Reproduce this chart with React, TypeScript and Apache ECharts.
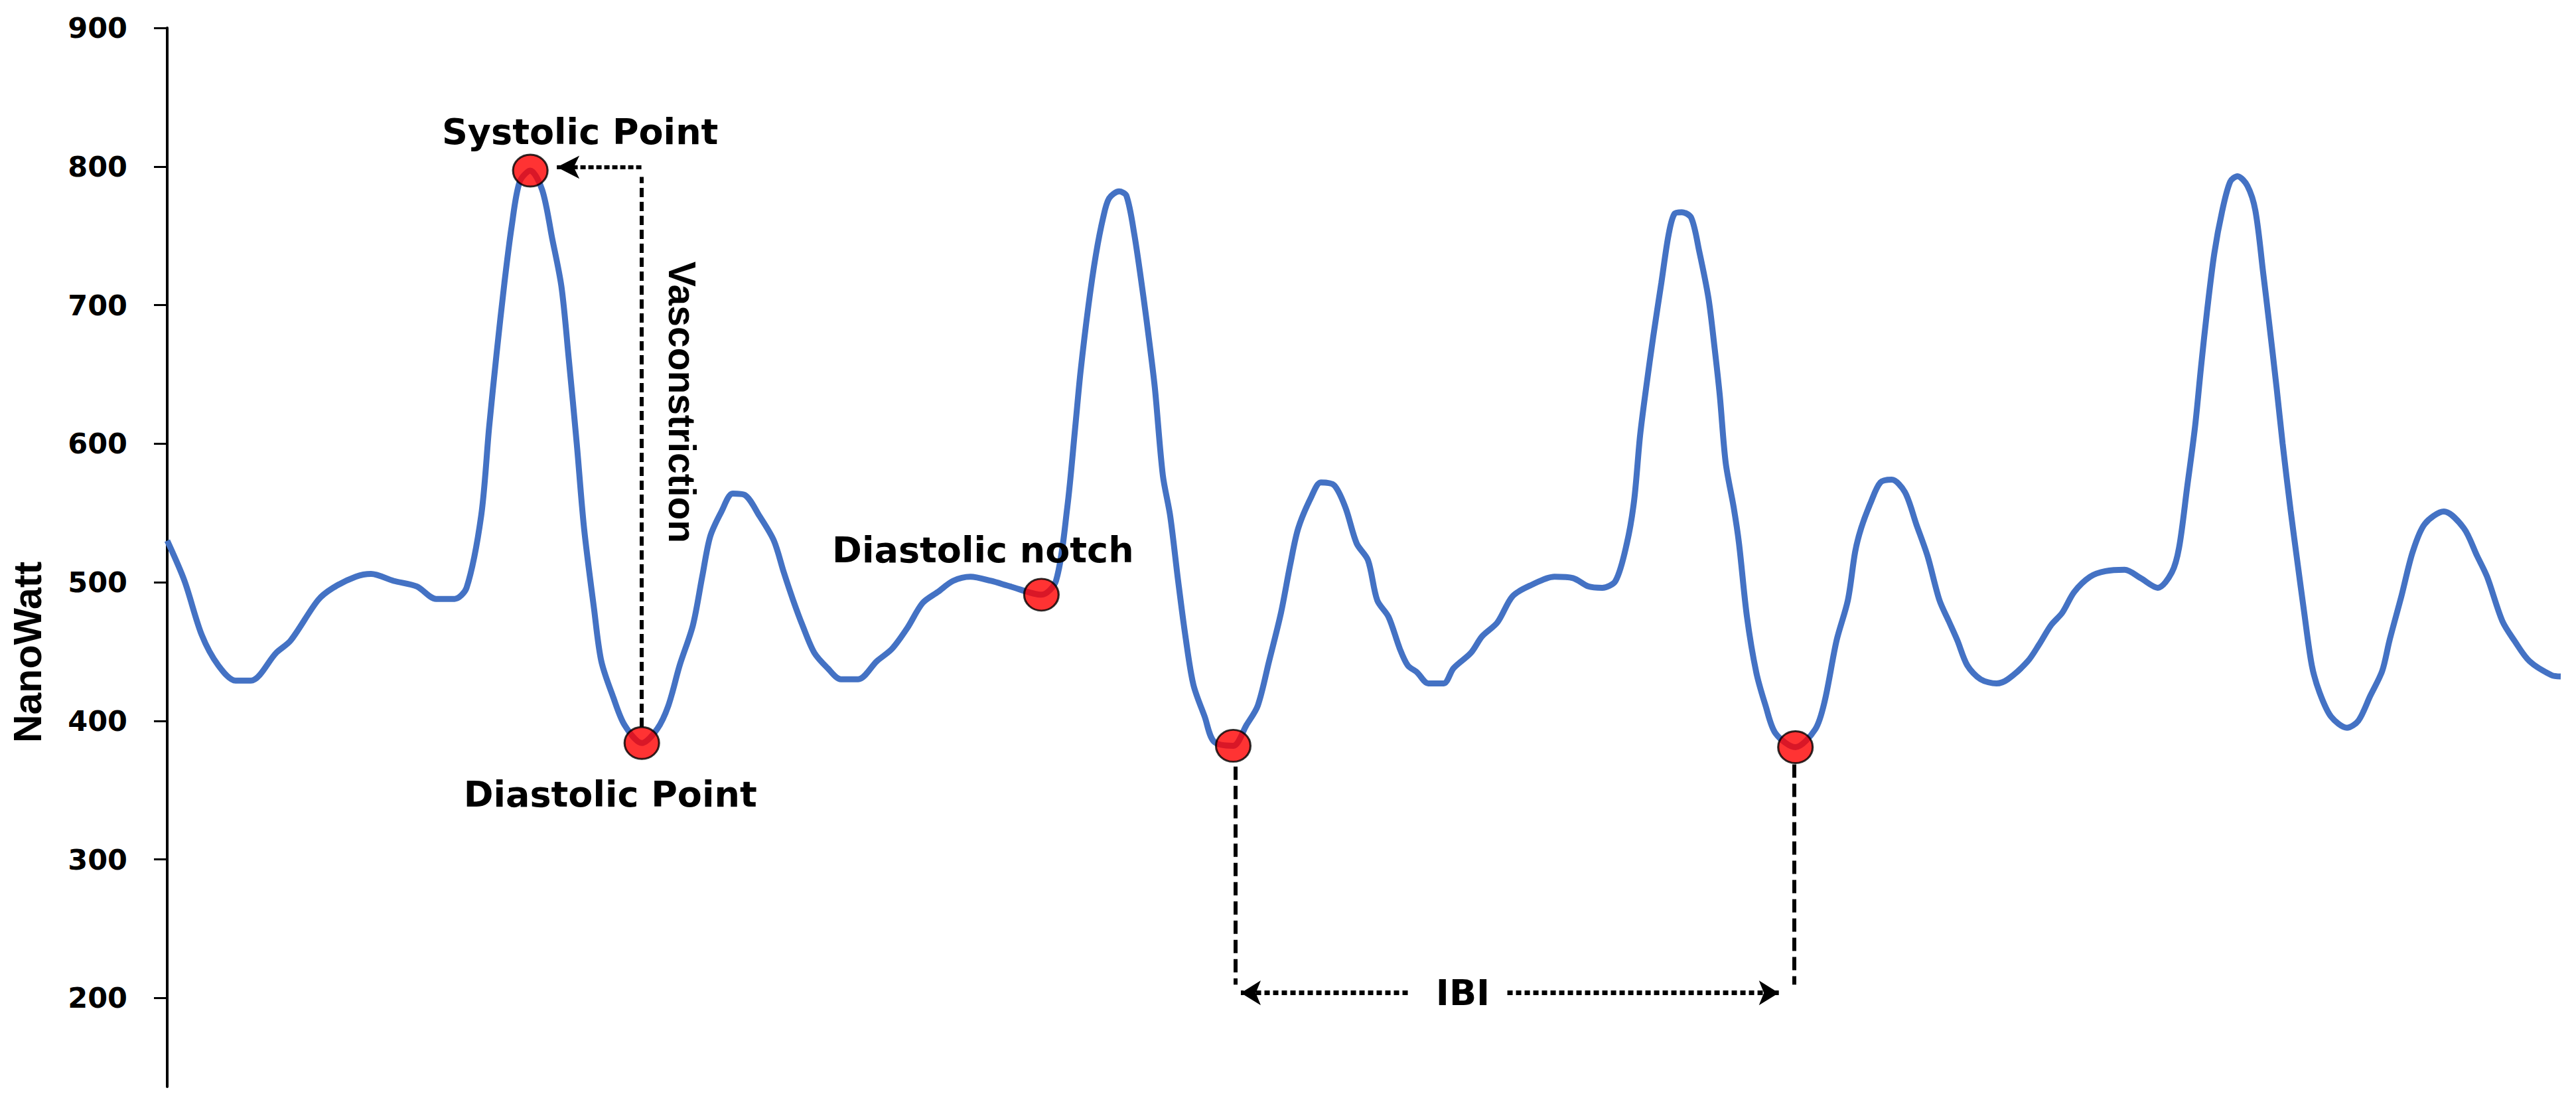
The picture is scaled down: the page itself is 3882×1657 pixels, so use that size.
import React, { useEffect, useRef } from "react";
import * as echarts from "echarts";

// Sample index (time) and PPG amplitude in NanoWatt
const time = [
  0, 2.6, 5.2, 7.7, 10.3, 12.6, 16.4, 18.6, 22.7, 25.0, 28.4, 30.7, 34.1, 37.6, 40.5, 43.3, 45.1,
  47.3, 48.5, 49.6, 50.8, 51.9, 53.1, 54.7, 56.5, 58.0, 59.4, 60.5, 61.7, 62.8, 64.3, 65.4, 67.2,
  68.9, 71.5, 73.8, 75.5, 77.2, 79.2, 80.6, 81.8, 83.5, 85.2, 87.0, 89.2, 91.4, 92.9, 94.3, 95.7,
  97.5, 99.5, 101.5, 104.1, 106.9, 109.2, 111.5, 113.8, 116.1, 118.4, 121.0, 124.1, 127.0, 131.7,
  133.9, 135.6, 136.8, 137.6, 138.8, 139.9, 141.0, 141.9, 143.4, 144.5, 145.7, 147.1, 148.0, 148.8,
  150.0, 151.1, 152.3, 153.4, 154.6, 156.3, 157.7, 160.6, 162.6, 164.3, 166.0, 167.8, 169.2, 170.4,
  172.4, 173.8, 175.8, 177.5, 179.2, 180.9, 182.3, 184.0, 185.7, 186.9, 188.3, 190.0, 192.3, 193.8,
  196.4, 198.1, 200.4, 202.7, 205.5, 209.0, 211.8, 214.1, 216.2, 218.2, 219.9, 221.0, 221.9, 222.8,
  223.9, 225.1, 226.2, 227.1, 228.2, 229.6, 230.8, 232.2, 233.1, 233.9, 234.8, 236.0, 236.8, 238.0,
  239.4, 240.8, 242.3, 245.3, 248.3, 249.7, 251.5, 253.2, 254.3, 255.2, 256.6, 258.1, 259.8, 261.8,
  263.5, 265.2, 267.0, 268.4, 269.7, 271.2, 273.2, 275.6, 277.3, 280.3, 282.0, 283.8, 285.5, 287.3,
  289.7, 292.0, 294.9, 297.3, 299.9, 302.0, 303.1, 304.3, 305.5, 306.4, 307.3, 308.4, 309.6, 310.8,
  311.9, 313.4, 314.6, 315.8, 316.6, 317.8, 318.7, 319.9, 321.0, 321.9, 323.1, 324.3, 326.0, 328.4,
  330.1, 331.9, 333.7, 334.8, 336.6, 338.3, 340.1, 343.0, 346.0, 348.0, 349.5, 351.8, 353.6, 355.9,
  359.2, 360.6,
];
const nanoWatt = [
  530, 501, 462, 440, 429, 429, 449, 458, 487, 496, 504, 506, 501, 497, 488, 488, 496,
  548, 612, 664, 716, 757, 789, 797, 783, 748, 713, 661, 600, 539, 481, 443, 417,
  397, 384, 394, 411, 440, 469, 504, 533, 551, 564, 563, 548, 530, 507, 487, 469,
  449, 438, 430, 430, 443, 452, 467, 485, 493, 501, 504, 501, 497, 491,
  501, 554, 612, 652, 700, 736, 763, 777, 782, 779, 751, 705, 672, 640,
  577, 548, 501, 461, 426, 403, 385, 382, 397, 411, 443, 478, 513, 539,
  562, 572, 570, 554, 528, 516, 487, 475, 452, 440, 435, 427, 427, 438,
  449, 461, 471, 490, 498, 504, 503, 497, 496, 501, 528, 559, 606, 640,
  678, 716, 751, 766, 767, 763, 739, 705, 670, 635, 586, 554, 528, 475,
  435, 411, 391, 381, 394, 414, 458, 487, 522, 539, 557, 572, 574, 565,
  542, 519, 487, 472, 458, 440, 430, 427, 430, 443, 455, 469, 478, 493,
  504, 508, 509, 503, 496, 507, 525, 568, 612, 655, 695, 737, 768, 789,
  793, 786, 768, 722, 690, 640, 600, 552, 512, 480, 440, 420, 403, 395,
  400, 418, 436, 458, 490, 522, 542, 551, 539, 519, 504, 472, 458, 443,
  433, 432,
];

// Y axis range and tick labels
const yMin = 136;
const yMax = 900;
const yTicks = [200, 300, 400, 500, 600, 700, 800, 900];

// Highlighted points (systolic, diastolic, notch, IBI diastolic points)
const pointTime = [54.7, 71.5, 131.7, 160.6, 245.3];
const pointValue = [797, 384, 491, 382, 381];

// Annotation texts and their anchor positions in data space
const labelText = ["Systolic Point", "Diastolic Point", "Diastolic notch", "IBI", "Vasconstriction"];
const labelTime = [62.2, 66.75, 122.9, 195.2, 77.6];
const labelValue = [824.9, 347.2, 523.5, 203.9, 629.9];
const labelRotate = [0, 0, 0, 0, -90];

// Guide lines in data space: [fromTime, fromValue, toTime, toValue]
const vasoVertical = [71.45, 395.6, 71.45, 792.5];
const vasoArrow = [71.44, 799.5, 58.7, 799.5];
const ibiLeftVertical = [160.95, 367, 160.95, 209.7];
const ibiRightVertical = [245.1, 368.6, 245.1, 209.7];
const ibiLeftArrow = [186.9, 203.7, 161.75, 203.7];
const ibiRightArrow = [201.9, 203.7, 242.8, 203.7];

const ELLIPSE = "path://M0,50 A50,50 0 1,1 100,50 A50,50 0 1,1 0,50 Z";
const ARIAL = "'Liberation Sans', Arial, sans-serif";
const DEJAVU = "'DejaVu Sans', sans-serif";

function segment(l: number[], arrow: boolean, dash: number[], width: number, arrowSize?: number[]) {
  return [
    { coord: [l[0], l[1]], symbol: "none", lineStyle: { type: dash, width, color: "#000", cap: "butt" } },
    {
      coord: [l[2], l[3]],
      symbol: arrow ? "arrow" : "none",
      symbolSize: arrowSize || [0, 0],
      itemStyle: { color: "#000" },
    },
  ];
}

export default function App() {
  const ref = useRef<HTMLDivElement>(null);
  useEffect(() => {
    document.body.style.margin = "0";
    if (!ref.current) return;
    const chart = echarts.init(ref.current, null, { renderer: "svg" });
    const curve = time.map((t, i) => [t, nanoWatt[i]]);
    const points = pointTime.map((t, i) => [t, pointValue[i]]);
    const labels = labelText.map((name, i) => ({
      name,
      value: [labelTime[i], labelValue[i]],
      label:
        labelRotate[i] === 0
          ? { rotate: 0, fontFamily: DEJAVU, fontSize: 54 }
          : { rotate: labelRotate[i], fontFamily: ARIAL, fontSize: 57 },
    }));
    chart.setOption({
      animation: false,
      backgroundColor: "#ffffff",
      grid: { left: 252, right: 23, top: 42, bottom: 20, outerBoundsMode: "none" },
      xAxis: { type: "value", min: 0, max: time[time.length - 1], show: false },
      yAxis: {
        type: "value",
        min: yMin,
        max: yMax,
        name: "NanoWatt",
        nameLocation: "middle",
        nameGap: 181,
        nameTextStyle: {
          fontFamily: ARIAL,
          fontWeight: "bold",
          fontSize: 59,
          color: "#000",
          padding: [0, 286, 0, 0],
        },
        axisLine: { show: true, lineStyle: { color: "#000", width: 4 } },
        axisTick: { show: true, length: 20, lineStyle: { color: "#000", width: 3 }, customValues: yTicks },
        axisLabel: {
          customValues: yTicks,
          margin: 60,
          fontFamily: DEJAVU,
          fontWeight: "bold",
          fontSize: 43,
          color: "#000",
        },
        splitLine: { show: false },
      },
      series: [
        {
          name: "PPG",
          type: "line",
          data: curve,
          showSymbol: false,
          smooth: 0.3,
          lineStyle: { color: "#4472C4", width: 9 },
          silent: true,
          z: 2,
        },
        {
          name: "Annotations",
          type: "scatter",
          data: labels,
          symbol: "circle",
          symbolSize: 1,
          itemStyle: { color: "rgba(0,0,0,0)" },
          silent: true,
          z: 3,
          label: {
            show: true,
            position: "inside",
            formatter: "{b}",
            fontWeight: "bold",
            color: "#000000",
            opacity: 1,
            textBorderWidth: 0,
            textBorderColor: "transparent",
          },
          markLine: {
            silent: true,
            symbol: ["none", "none"],
            label: { show: false },
            emphasis: { disabled: true },
            data: [
              segment(vasoVertical, false, [14, 7], 6),
              segment(vasoArrow, true, [8, 4], 6, [26, 34]),
              segment(ibiLeftVertical, false, [20, 9], 6),
              segment(ibiRightVertical, false, [20, 9], 6),
              segment(ibiLeftArrow, true, [8, 5], 7, [28, 30]),
              segment(ibiRightArrow, true, [8, 5], 7, [28, 30]),
            ],
          },
        },
        {
          name: "Key points",
          type: "scatter",
          data: points,
          symbol: ELLIPSE,
          symbolSize: [52, 48],
          itemStyle: { color: "#FF0000", borderColor: "#000", borderWidth: 3 },
          silent: true,
          z: 4,
        },
      ],
    });
    return () => chart.dispose();
  }, []);
  return <div ref={ref} style={{ width: 3882, height: 1657 }} />;
}
